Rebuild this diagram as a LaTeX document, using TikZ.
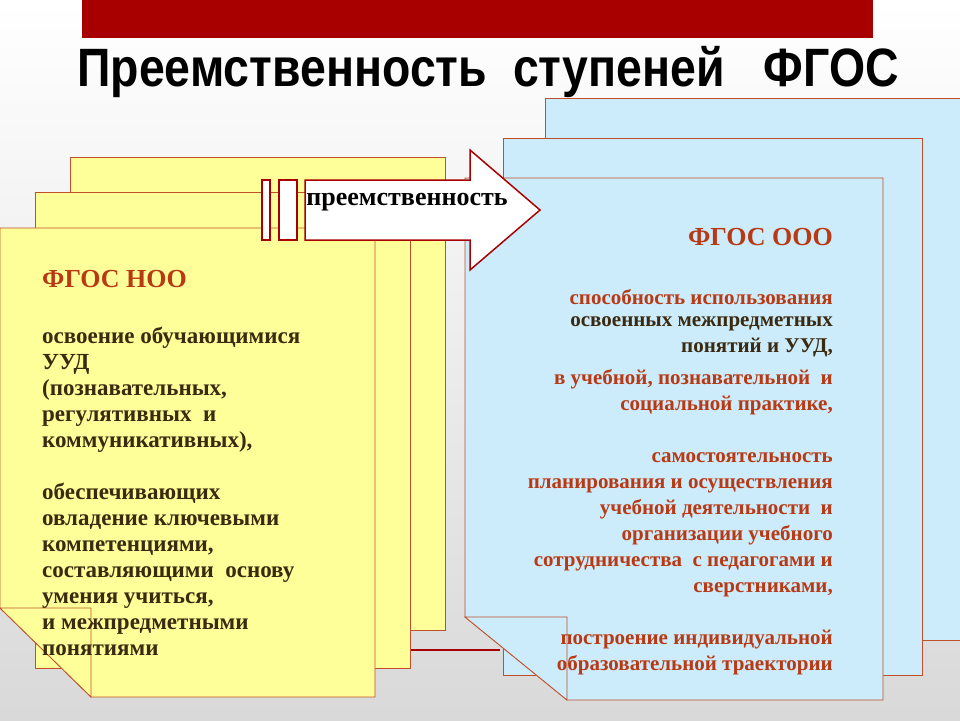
\documentclass[tikz,border=0pt]{standalone}
\usepackage{fontspec}
\setmainfont{Liberation Serif}
\newfontfamily\titlefont{Liberation Sans}
\definecolor{ylw}{HTML}{FFFF99}
\definecolor{blu}{HTML}{CCEBFB}
\definecolor{edge}{HTML}{C0502A}
\definecolor{dred}{HTML}{A80000}
\definecolor{txtred}{HTML}{B83A14}
\definecolor{txtdark}{HTML}{3A2A10}
\tikzset{
  ypage/.style={fill=ylw,draw=edge,line width=0.8pt},
  bpage/.style={fill=blu,draw=edge,line width=0.8pt},
  ltext/.style={anchor=north west,align=left,font=\bfseries\fontsize{23}{26}\selectfont,text=txtdark,inner sep=0pt},
  rtext/.style={anchor=north east,align=right,font=\bfseries\fontsize{21}{26}\selectfont,text=txtred,inner sep=0pt},
  arr/.style={fill=white,draw=dred,line width=1.5pt}
}
\begin{document}
\begin{tikzpicture}[x=1pt,y=-1pt]
\useasboundingbox (0,0) rectangle (960,720);
\shade[top color=white,bottom color=gray!30] (0,0) rectangle (960,720);
\fill[dred] (82,0) rectangle (873,38);
\node[font=\titlefont\bfseries\fontsize{54}{58}\selectfont,xscale=0.86] (title) at (488,72) {Преемственность\ \ ступеней\ \ \ ФГОС};
% red line
\draw[dred,line width=2.5pt] (410,650) -- (500,650);
% left pages
\draw[ypage] (70,157) rectangle (445,630);
\draw[ypage] (35,192) rectangle (410,668);
\draw[ypage] (0,228) -- (375,228) -- (375,697) -- (91,697) -- (0,608) -- cycle;
\draw[ypage] (0,608) -- (91,608) -- (91,697) -- cycle;
% right pages
\draw[bpage] (545,98) rectangle (960,640);
\draw[bpage] (503,138) rectangle (922,675);
\draw[bpage] (465,178) -- (883,178) -- (883,700) -- (567,700) -- (465,617) -- cycle;
\draw[bpage] (465,617) -- (567,617) -- (567,700) -- cycle;
% arrow
\draw[arr] (262,180) rectangle (270,240);
\draw[arr] (279,180) rectangle (297,240);
\draw[arr] (305,180) -- (470,180) -- (470,150) -- (540,210) -- (470,270) -- (470,240) -- (305,240) -- cycle;
\node[font=\bfseries\fontsize{26}{28}\selectfont] (lab) at (407,202) {преемственность};
% left text
\node[ltext,text=txtred,font=\bfseries\fontsize{26}{28}\selectfont] (lh) at (42,270) {ФГОС НОО};
\node[ltext] (lt) at (42,327) {освоение обучающимися\\УУД\\(познавательных,\\регулятивных\ \ и\\коммуникативных),\\[26pt]обеспечивающих\\овладение ключевыми\\компетенциями,\\составляющими\ \ основу\\умения учиться,\\и межпредметными\\понятиями};
% right text
\node[rtext,font=\bfseries\fontsize{26}{28}\selectfont] (rh) at (833,228) {ФГОС ООО};
\node[rtext] (rt1) at (833,289) {способность использования};
\node[rtext,text=txtdark] (rt2) at (833,316) {освоенных межпредметных\\понятий и УУД,};
\node[rtext] (rt3) at (833,369) {в учебной, познавательной\ \ и\\социальной практике,\\[26pt]самостоятельность\\планирования и осуществления\\учебной деятельности\ \ и\\организации учебного\\сотрудничества\ \ с педагогами и\\сверстниками,\\[26pt]построение индивидуальной\\образовательной траектории};
\end{tikzpicture}
\end{document}
